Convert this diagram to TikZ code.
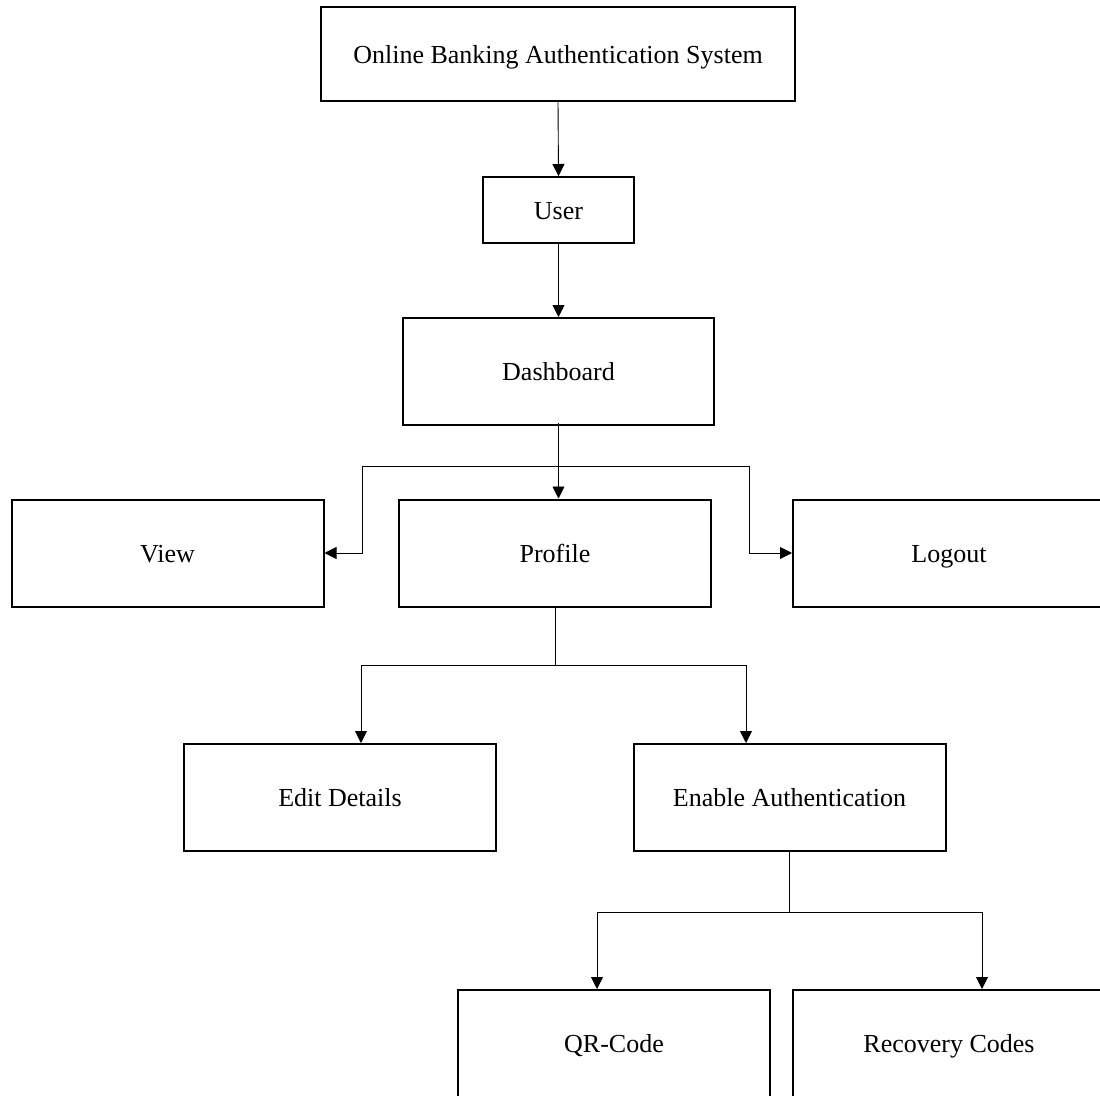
\documentclass[tikz,border=0pt]{standalone}
\usepackage{fontspec}
\setmainfont{Liberation Serif}
\usetikzlibrary{arrows.meta}
\begin{document}
\begin{tikzpicture}[x=1pt,y=-1pt,
  box/.style={draw, line width=2pt, minimum width=312pt, minimum height=107pt,
    inner sep=0pt, text height=22pt, text depth=4pt, font=\fontsize{26}{30}\selectfont},
  arr/.style={line width=0.9pt, -{Triangle[length=12pt,width=12pt]}},
  ln/.style={line width=0.9pt}]
\useasboundingbox (0,0) rectangle (1100,1095);
\clip (0,0) rectangle (1100,1095);
\node[box, minimum width=474pt, minimum height=94pt] (top) at (558,54) {Online Banking Authentication System};
\node[box, minimum width=151pt, minimum height=66pt] (user) at (558.5,210) {User};
\node[box, minimum width=311pt] (dash) at (558.5,371.5) {Dashboard};
\node[box] (view) at (167.5,553) {View};
\node[box] (prof) at (555,553) {Profile};
\node[box] (logout) at (949,553) {Logout};
\node[box] (edit) at (340,797.5) {Edit Details};
\node[box] (enable) at (789.5,797.5) {Enable Authentication};
\node[box] (qr) at (614,1043.5) {QR-Code};
\node[box] (rec) at (949,1043.5) {Recovery Codes};
% connectors
\draw[arr] (top.south) -- (user.north);
\draw[arr] (user.south) -- (user.south |- dash.north);
\draw[arr] ([yshift=3pt]dash.south) -- (dash.south |- prof.north);
\coordinate (j1) at (dash.south |- 0,466);
\draw[arr] (j1) -- ++(-196,0) |- (view.east);
\draw[arr] (j1) -- ++(191,0) |- (logout.west);
\coordinate (j2) at (prof.south |- 0,665);
\draw[ln] (prof.south) -- (j2);
\draw[arr] (j2) -| (361,0 |- edit.north);
\draw[arr] (j2) -| (746,0 |- enable.north);
\coordinate (j3) at (enable.south |- 0,912);
\draw[ln] (enable.south) -- (j3);
\draw[arr] (j3) -| (597,0 |- qr.north);
\draw[arr] (j3) -| (982,0 |- rec.north);
\end{tikzpicture}
\end{document}
